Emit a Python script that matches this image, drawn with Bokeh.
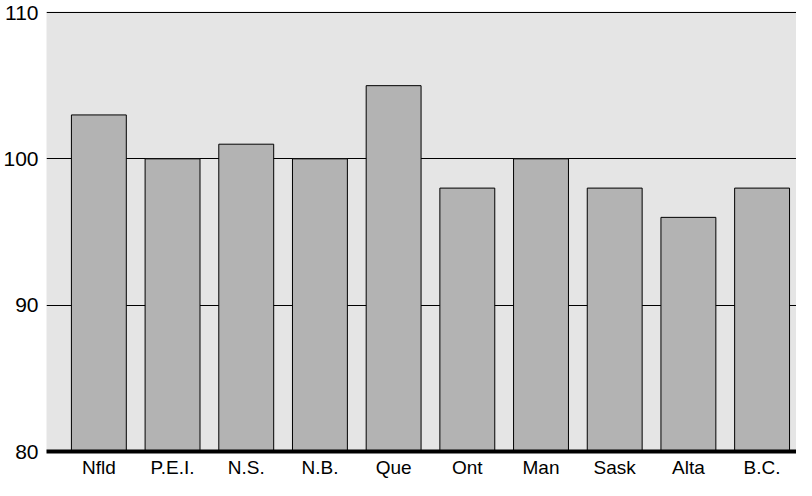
from bokeh.plotting import figure
from bokeh.models import Range1d, FixedTicker
from bokeh.embed import file_html
from bokeh.resources import INLINE

provinces = ["Nfld", "P.E.I.", "N.S.", "N.B.", "Que", "Ont", "Man", "Sask", "Alta", "B.C."]
values = [103, 100, 101, 100, 105, 98, 100, 98, 96, 98]
y_ticks = [80, 90, 100, 110]

idx = list(range(len(provinces)))

p = figure(width=796, height=480, output_backend="svg", toolbar_location=None,
           x_range=Range1d(-0.7105, 9.467), y_range=Range1d(80, 110.068),
           min_border_left=44, min_border_right=0, min_border_top=11, min_border_bottom=27)
p.background_fill_color = "#e5e5e5"
p.border_fill_color = "white"
p.outline_line_color = None

p.vbar(x=idx, top=values, bottom=80, width=0.745, fill_color="#b3b3b3",
       line_color="black", line_width=1)

p.xaxis.ticker = FixedTicker(ticks=idx)
p.xaxis.major_label_overrides = {i: s for i, s in enumerate(provinces)}
p.xaxis.major_tick_line_color = None
p.xaxis.major_tick_out = 0
p.xaxis.major_tick_in = 0
p.xaxis.minor_tick_line_color = None
p.xaxis.minor_tick_out = 0
p.xaxis.axis_line_width = 4
p.xaxis.axis_line_color = "black"
p.xaxis.major_label_text_font = "Liberation Sans"
p.xaxis.major_label_text_font_size = "19px"
p.xaxis.major_label_text_color = "black"
p.xaxis.major_label_standoff = 5

p.yaxis.ticker = FixedTicker(ticks=y_ticks)
p.yaxis.axis_line_color = None
p.yaxis.major_tick_line_color = None
p.yaxis.major_tick_out = 0
p.yaxis.major_tick_in = 0
p.yaxis.minor_tick_line_color = None
p.yaxis.minor_tick_out = 0
p.yaxis.major_label_text_font = "Liberation Sans"
p.yaxis.major_label_text_font_size = "21px"
p.yaxis.major_label_text_color = "black"
p.yaxis.major_label_standoff = 8

p.xgrid.grid_line_color = None
p.ygrid.ticker = FixedTicker(ticks=[90, 100, 110])
p.ygrid.grid_line_color = "black"
p.ygrid.grid_line_width = 1

open("out.html", "w").write(file_html(p, INLINE))
